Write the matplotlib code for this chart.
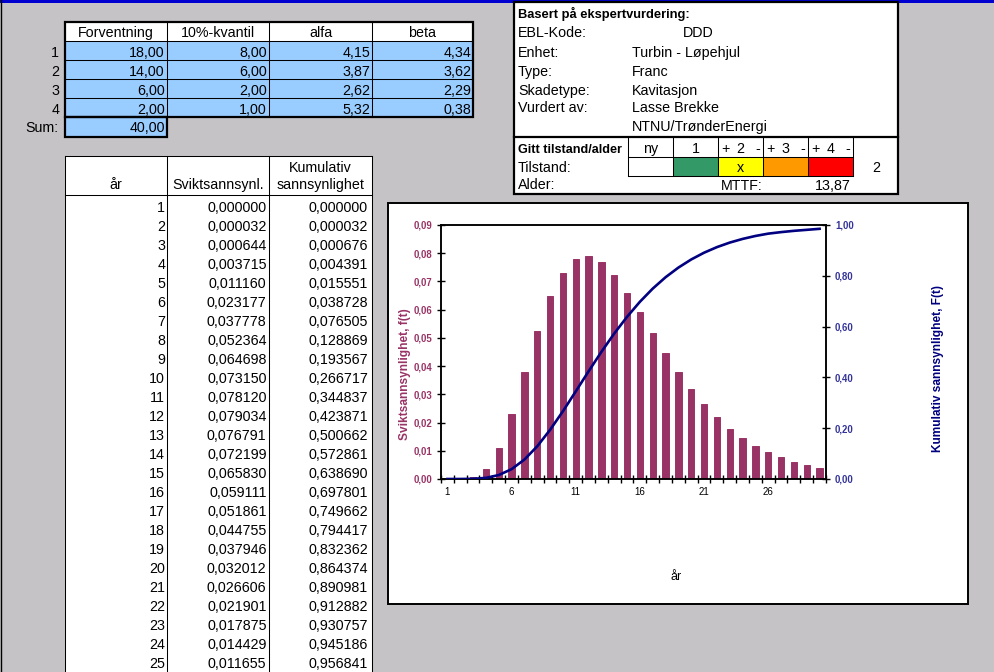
import matplotlib
matplotlib.use('Agg')
import matplotlib.pyplot as plt
from matplotlib.patches import Rectangle
from matplotlib.ticker import FuncFormatter

plt.rcParams['font.family'] = ['Liberation Sans', 'DejaVu Sans']

# parametertabell (ekspertvurdering)
forventning = [18.00, 14.00, 6.00, 2.00]
kvantil10 = [8.00, 6.00, 2.00, 1.00]
alfa = [4.15, 3.87, 2.62, 5.32]
beta = [4.34, 3.62, 2.29, 0.38]
sum_forventning = 40.00

# år 1-25 fra tabellen, 26-30 lest av grafen
aar = list(range(1, 31))
svikt = [0.000000, 0.000032, 0.000644, 0.003715, 0.011160, 0.023177, 0.037778,
         0.052364, 0.064698, 0.073150, 0.078120, 0.079034, 0.076791, 0.072199,
         0.065830, 0.059111, 0.051861, 0.044755, 0.037946, 0.032012, 0.026606,
         0.021901, 0.017875, 0.014429, 0.011655, 0.0095, 0.0078, 0.0061, 0.0050, 0.0040]
kumulativ = [0.000000, 0.000032, 0.000676, 0.004391, 0.015551, 0.038728, 0.076505,
             0.128869, 0.193567, 0.266717, 0.344837, 0.423871, 0.500662, 0.572861,
             0.638690, 0.697801, 0.749662, 0.794417, 0.832362, 0.864374, 0.890981,
             0.912882, 0.930757, 0.945186, 0.956841, 0.966, 0.972, 0.977, 0.981, 0.985]
n_rader = 25
x_labels = [1, 6, 11, 16, 21, 26]

info_felt = ['EBL-Kode:', 'Enhet:', 'Type:', 'Skadetype:', 'Vurdert av:', '']
info_verdi = ['DDD', 'Turbin - Løpehjul', 'Franc', 'Kavitasjon', 'Lasse Brekke', 'NTNU/TrønderEnergi']
tilstander = ['ny', '1', '2', '3', '4']
tilstand_farger = ['white', '#339966', '#ffff00', '#ff9900', '#ff0000']
valgt = 2
mttf = 13.87

W, H = 995, 672
GRAY = '#c6c3c6'
BLUE = '#99ccff'
BAR = '#993366'
NAVY = '#000080'
FS = 10.3


def komma(v, d):
    return f"{v:.{d}f}".replace('.', ',')


fig = plt.figure(figsize=(W / 100, H / 100), dpi=100, facecolor=GRAY)
bg = fig.add_axes([0, 0, 1, 1])
bg.set_xlim(0, W)
bg.set_ylim(H, 0)
bg.axis('off')


def rect(x0, y0, x1, y1, fc='none', ec='none', lw=0):
    bg.add_patch(Rectangle((x0, y0), x1 - x0, y1 - y0, facecolor=fc, edgecolor=ec, linewidth=lw))


def hl(y, x0, x1, lw=0.75):
    bg.plot([x0, x1], [y, y], color='black', lw=lw, solid_capstyle='projecting')


def vl(x, y0, y1, lw=0.75):
    bg.plot([x, x], [y0, y1], color='black', lw=lw, solid_capstyle='projecting')


def txt(x, y, s, ha='left', **kw):
    kw.setdefault('fontsize', FS)
    bg.text(x, y, s, ha=ha, va='baseline', **kw)


# kant øverst / venstre
rect(0, 0, W, 2.5, fc='#0000d0')
vl(0.5, 0, H, lw=1)

# ---- parametertabell
cols = [65, 167, 269, 372, 473]
rect(65, 41, 473, 117, fc=BLUE)
rect(65, 22, 473, 41, fc='white')
rect(65, 117, 167, 137, fc=BLUE)
for i, h in enumerate(['Forventning', '10%-kvantil', 'alfa', 'beta']):
    txt((cols[i] + cols[i + 1]) / 2, 37.3, h, ha='center')
for r in range(4):
    yb = 57.3 + 19 * r
    txt(59, yb, str(r + 1), ha='right')
    for c, serie in enumerate([forventning, kvantil10, alfa, beta]):
        txt(cols[c + 1] - 2, yb, komma(serie[r], 2), ha='right')
txt(58, 131.7, 'Sum:', ha='right')
txt(165, 131.7, komma(sum_forventning, 2), ha='right')
for y in [41, 60, 79, 98]:
    hl(y, 65, 473)
for x in cols[1:4]:
    vl(x, 22, 117)
rect(65, 22, 473, 117, ec='black', lw=1.6)
rect(65, 117, 167, 137, ec='black', lw=1.6)

# ---- år-tabell
rect(65, 156, 372, H + 5, fc='white')
hl(156, 65, 372)
hl(195, 65, 372)
for x in [65, 167, 269, 372]:
    vl(x, 156, H + 5)
txt(116, 189.3, 'år', ha='center')
txt(218, 189.3, 'Sviktsannsynl.', ha='center')
txt(320, 171.7, 'Kumulativ', ha='center')
txt(320, 189.3, 'sannsynlighet', ha='center')
for i in range(n_rader):
    yb = 211.7 + 19 * i
    txt(165, yb, str(aar[i]), ha='right')
    txt(266.5, yb, komma(svikt[i], 6), ha='right')
    txt(368, yb, komma(kumulativ[i], 6), ha='right')

# ---- infoboks
rect(514, 2, 898, 194, fc='white', ec='black', lw=1.6)
hl(137, 514, 898, lw=1.6)
txt(518, 18.3, 'Basert på ekspertvurdering:', fontweight='bold', fontsize=9.3)
base = [37.3, 56.7, 76, 95, 111.7, 131]
for i, (f, v) in enumerate(zip(info_felt, info_verdi)):
    if f:
        txt(518, base[i], f)
    txt(683 if i == 0 else 632, base[i], v)
txt(518, 152.7, 'Gitt tilstand/alder', fontweight='bold', fontsize=9.1)
txt(518, 171.7, 'Tilstand:')
txt(518, 189.3, 'Alder:')
cx = [628, 673, 718, 763, 808, 853]
for i, t in enumerate(tilstander):
    rect(cx[i], 157, cx[i + 1], 176, fc=tilstand_farger[i])
    if i < 2:
        txt((cx[i] + cx[i + 1]) / 2, 152.7, t, ha='center')
    else:
        txt(cx[i] + 3.5, 152.7, '+')
        txt((cx[i] + cx[i + 1]) / 2, 152.7, t, ha='center')
        txt(cx[i + 1] - 8, 152.7, '-')
    if i == valgt:
        txt((cx[i] + cx[i + 1]) / 2, 171.7, 'x', ha='center')
hl(157, 628, 853)
hl(176, 628, 853)
for x in cx:
    vl(x, 137, 176)
txt(876, 171.7, str(valgt), ha='center')
txt(721, 190, 'MTTF:')
txt(851, 190, komma(mttf, 2), ha='right')

# ---- diagram
rect(388, 203, 968, 604, fc='white', ec='black', lw=1.4)
ax = fig.add_axes([441 / W, 1 - 479 / H, 385 / W, 254 / H])
ax.set_facecolor('white')
ax.bar(aar, svikt, width=0.5, color=BAR, edgecolor=BAR, linewidth=0.7, zorder=2)
ax.set_xlim(0.5, 30.5)
ax.set_ylim(0, 0.09)
ax.set_yticks([i / 100 for i in range(10)])
ax.yaxis.set_major_formatter(FuncFormatter(lambda v, p: komma(v, 2)))
ax.set_xticks(x_labels)
ax.set_xticks([a - 0.5 for a in aar] + [30.5], minor=True)
ax.tick_params(axis='y', direction='inout', length=6, width=1, labelsize=6.9,
               labelcolor=BAR, pad=3.5)
ax.tick_params(axis='x', which='major', length=0, labelsize=7, pad=6)
ax.tick_params(axis='x', which='minor', direction='inout', length=6, width=1)
for lbl in ax.get_yticklabels():
    lbl.set_fontweight('bold')
for s in ax.spines.values():
    s.set_linewidth(1.1)

ax2 = ax.twinx()
ax2.plot(aar, kumulativ, color=NAVY, lw=1.9, zorder=3)
ax2.set_ylim(0, 1)
ax2.set_yticks([i / 5 for i in range(6)])
ax2.yaxis.set_major_formatter(FuncFormatter(lambda v, p: komma(v, 2)))
ax2.tick_params(axis='y', direction='inout', length=6, width=1, labelsize=6.9,
                labelcolor='#333399', pad=3.5)
for lbl in ax2.get_yticklabels():
    lbl.set_fontweight('bold')
for s in ax2.spines.values():
    s.set_linewidth(1.1)

bg.text(405, 374, 'Sviktsannsynlighet, f(t)', rotation=90, ha='center', va='center',
        fontsize=8.6, fontweight='bold', color=BAR)
bg.text(938, 368, 'Kumulativ sannsynlighet, F(t)', rotation=90, ha='center', va='center',
        fontsize=8.6, fontweight='bold', color=NAVY)
bg.text(676, 577, 'år', ha='center', va='center', fontsize=9)

fig.savefig('out.png', dpi=100, facecolor=GRAY)
